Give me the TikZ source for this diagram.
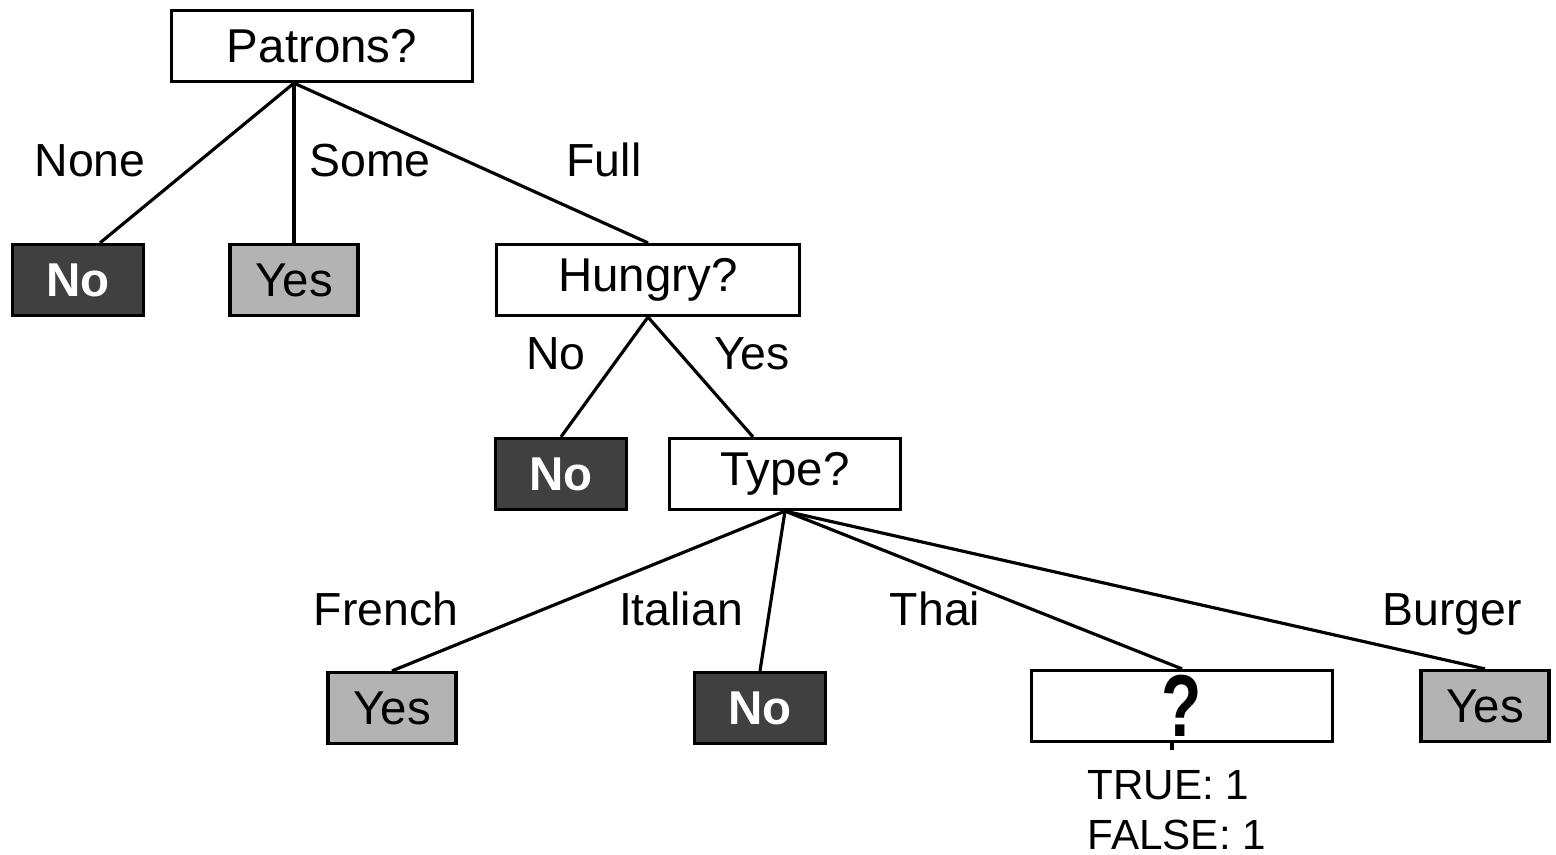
\documentclass[tikz,border=0pt]{standalone}
\usepackage{fontspec}
\setmainfont{Liberation Sans}
\usetikzlibrary{calc}
\definecolor{darkleaf}{HTML}{404040}
\definecolor{greyleaf}{HTML}{B3B3B3}
\begin{document}
\begin{tikzpicture}[x=0.01cm, y=-0.01cm]
	\tikzstyle{test} = [ draw, rectangle, line width=0.9pt, fill=white, minimum height=0.71cm, inner sep=0pt, font={\fontsize{13.5}{16}\selectfont} ];
	\tikzstyle{leafno} = [ test, fill=darkleaf, text=white, minimum width=1.31cm, font={\fontsize{13.5}{16}\selectfont\bfseries} ];
	\tikzstyle{leafyes} = [ test, fill=greyleaf, minimum width=1.28cm ];
	\tikzstyle{attr} = [ inner sep=1pt, text height=0.72em, text depth=0.2em, font={\fontsize{13.2}{16}\selectfont} ];
	\tikzstyle{branch} = [ line width=0.9pt ];

	\useasboundingbox (0,0) rectangle (1556,855);

	% tests
	\node[test, minimum width=3.01cm] (patrons) at (322,46) {Patrons?};
	\node[test, minimum width=3.02cm] (hungry) at (648,280) {Hungry?};
	\node[test, minimum width=2.31cm] (type) at (785,474) {Type?};
	\node[test, minimum width=3.01cm] (thai) at (1182,706) {\fontsize{25}{25}\selectfont\bfseries\scalebox{0.75}[1]{?}};

	% leaves
	\node[leafno] (none) at (78,280) {No};
	\node[leafyes] (some) at (294,280) {Yes};
	\node[leafno] (nothungry) at (561,474) {No};
	\node[leafyes] (french) at (392,708) {Yes};
	\node[leafno] (italian) at (760,708) {No};
	\node[leafyes] (burger) at (1485,706) {Yes};

	\draw[branch] (patrons.south -| some.north) -- ($(none.north)+(22,0)$);
	\draw[branch] (patrons.south -| some.north) -- (some.north);
	\draw[branch] (patrons.south -| some.north) -- (hungry.north);
	\foreach \a/\b in {hungry/nothungry, type/french, type/italian, type/thai, type/burger} {
		\draw[branch] (\a.south) -- (\b.north);
	}
	\draw[branch] (hungry.south) -- ($(type.north)+(-32,0)$);

	\foreach \t/\x/\y [count=\i] in {None/90/167, Some/370/167, Full/604/167, No/556/360, Yes/752/360,
		French/386/616, Italian/681/616, Thai/935/616, Burger/1452/616} {
		\node[attr] (lab\i) at (\x,\y) {\t};
	}

	% counts under the open node
	\coordinate (stub) at ($(thai.south)+(-10,7)$);
	\draw[branch] (thai.south -| stub) -- (stub);
	\node[anchor=north west, align=left, inner sep=0pt, font={\fontsize{12}{14.2}\selectfont}] (counts) at (1087,770) {TRUE: 1\\FALSE: 1};
\end{tikzpicture}
\end{document}
